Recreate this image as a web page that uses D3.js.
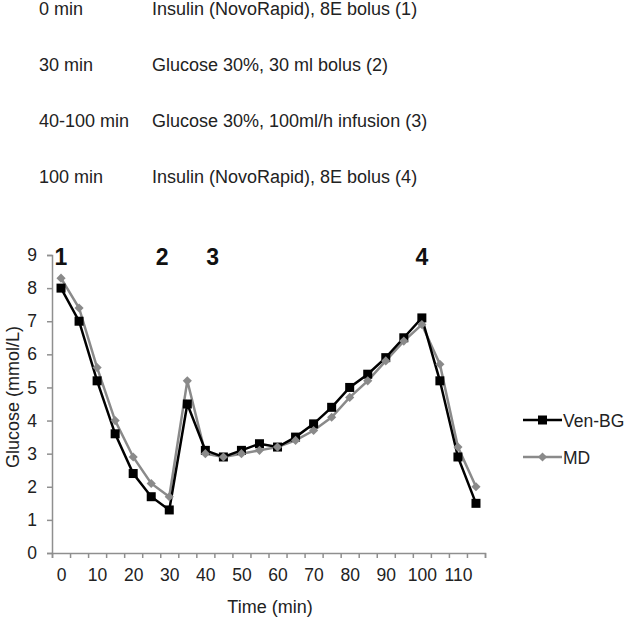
<!DOCTYPE html>
<html><head><meta charset="utf-8">
<script src="https://cdn.jsdelivr.net/npm/d3@7"></script>
<style>body{margin:0;background:#fff}svg{display:block;font-family:"Liberation Sans",Arial,sans-serif}</style>
</head><body>
<script>
const times = [0,5,10,15,20,25,30,35,40,45,50,55,60,65,70,75,80,85,90,95,100,105,110,115];
const venBG = [8.0,7.0,5.2,3.6,2.4,1.7,1.3,4.5,3.1,2.9,3.1,3.3,3.2,3.5,3.9,4.4,5.0,5.4,5.9,6.5,7.1,5.2,2.9,1.5];
const md    = [8.3,7.4,5.6,4.0,2.9,2.1,1.7,5.2,3.0,2.9,3.0,3.1,3.2,3.4,3.7,4.1,4.7,5.2,5.8,6.4,6.9,5.7,3.2,2.0];
const xTickLabels = [0,10,20,30,40,50,60,70,80,90,100,110];
const yTicks = [0,1,2,3,4,5,6,7,8,9];
const events = [["0 min","Insulin (NovoRapid), 8E bolus (1)"],["30 min","Glucose 30%, 30 ml bolus (2)"],["40-100 min","Glucose 30%, 100ml/h infusion (3)"],["100 min","Insulin (NovoRapid), 8E bolus (4)"]];
const markerLabels = ["1","2","3","4"];
const markerTimes = [0,28,42,100];
const seriesNames = ["Ven-BG","MD"];

const W=633,H=618;
const svg=d3.select("body").append("svg").attr("width",W).attr("height",H);
const x=d3.scaleLinear().domain([-2.5,117.5]).range([52,485]);
const y=d3.scaleLinear().domain([0,9]).range([553,255]);
const axisCol="#8f8f8f";
const txtCol="#222";

// top event list
const ev=svg.append("g").attr("font-size","18px").attr("fill",txtCol);
events.forEach((e,i)=>{
  const yy=15+i*56;
  ev.append("text").attr("x",39).attr("y",yy).text(e[0]);
  ev.append("text").attr("x",152).attr("y",yy).text(e[1]);
});

// axes
const yAx=svg.append("g").attr("transform","translate(52,0)")
  .call(d3.axisLeft(y).tickValues(yTicks).tickSize(5).tickPadding(10));
const xAx=svg.append("g").attr("transform","translate(0,553)")
  .call(d3.axisBottom(x).tickValues(d3.range(-2.5,118,5)).tickSize(5).tickFormat(""));
const xLab=svg.append("g").attr("transform","translate(0,553)")
  .call(d3.axisBottom(x).tickValues(xTickLabels).tickSize(0).tickPadding(16));
xLab.select(".domain").remove();
[yAx,xAx,xLab].forEach(g=>{
  g.selectAll(".domain").attr("stroke",axisCol).attr("stroke-width",1.5);
  g.selectAll("line").attr("stroke",axisCol).attr("stroke-width",1.5);
  g.selectAll("text").attr("font-size","17.5px").attr("fill",txtCol).attr("font-family","Liberation Sans, Arial, sans-serif");
});

svg.append("text").attr("x",270).attr("y",613).attr("text-anchor","middle").attr("font-size","18px").attr("fill",txtCol).text("Time (min)");
svg.append("text").attr("transform","translate(19,397) rotate(-90)").attr("text-anchor","middle").attr("font-size","18px").attr("fill",txtCol).text("Glucose (mmol/L)");

// event numbers
svg.append("g").selectAll("text").data(markerLabels).join("text")
  .attr("x",(d,i)=>x(markerTimes[i])).attr("y",265).attr("text-anchor","middle")
  .attr("font-size","23px").attr("font-weight","bold").attr("fill","#111").text(d=>d);

const line=d3.line().x((d,i)=>x(times[i])).y(d=>y(d));
const mdCol="#8a8a8a";
const diamondPath=d3.symbol().type(d3.symbolSquare).size(42)();
// MD
svg.append("path").datum(md).attr("d",line).attr("fill","none").attr("stroke",mdCol).attr("stroke-width",2.5);
// Ven-BG
svg.append("path").datum(venBG).attr("d",line).attr("fill","none").attr("stroke","#000").attr("stroke-width",2.5);
svg.append("g").selectAll("rect").data(venBG).join("rect")
  .attr("x",(d,i)=>x(times[i])-4.5).attr("y",d=>y(d)-4.5).attr("width",9).attr("height",9).attr("fill","#000");
svg.append("g").selectAll("path").data(md).join("path")
  .attr("transform",(d,i)=>`translate(${x(times[i])},${y(d)}) rotate(45)`)
  .attr("d",diamondPath).attr("fill",mdCol);

// legend
const lg=svg.append("g");
[[0,"#000"],[1,mdCol]].forEach(([i,c])=>{
  const ly=420+i*37;
  lg.append("line").attr("x1",523).attr("x2",562).attr("y1",ly).attr("y2",ly).attr("stroke",c).attr("stroke-width",2.5);
  if(i===0) lg.append("rect").attr("x",538).attr("y",ly-4.5).attr("width",9).attr("height",9).attr("fill",c);
  else lg.append("path").attr("transform",`translate(542.5,${ly}) rotate(45)`).attr("d",diamondPath).attr("fill",c);
  lg.append("text").attr("x",563).attr("y",ly+6.5).attr("font-size","17.5px").attr("fill",txtCol).text(seriesNames[i]);
});
</script>
</body></html>
